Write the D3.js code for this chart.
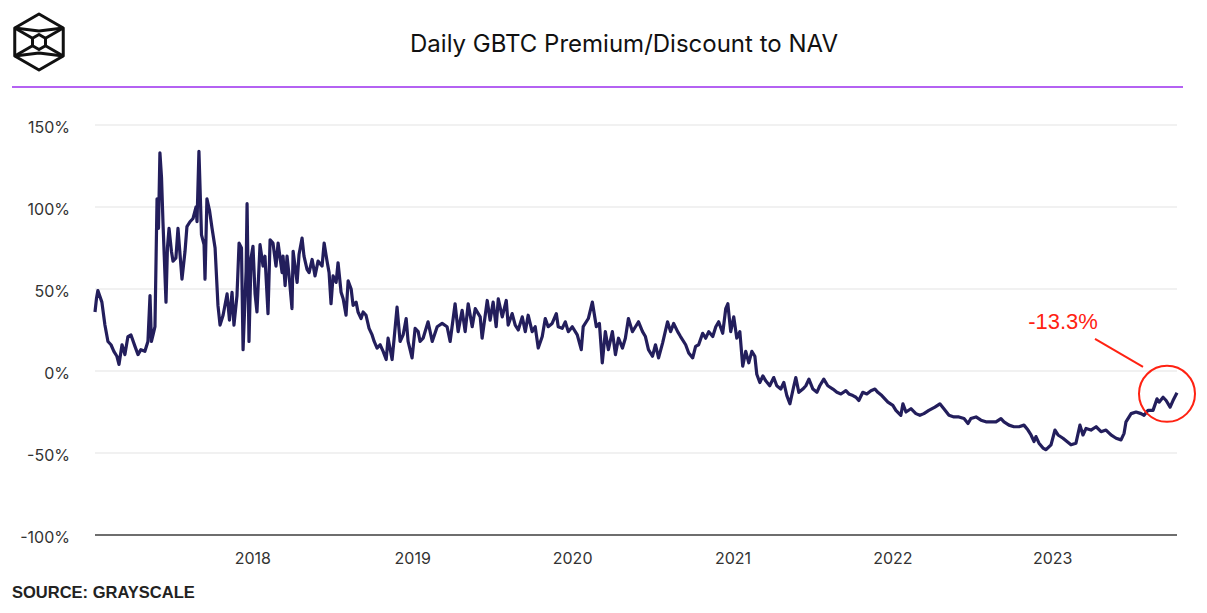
<!DOCTYPE html>
<html>
<head>
<meta charset="utf-8">
<script src="https://cdn.jsdelivr.net/npm/d3@7"></script>
<style>
  body { margin: 0; background: #fff; }
  svg { display: block; font-family: Inter, "Noto Sans", sans-serif; }
</style>
</head>
<body>
<svg id="chart" width="1207" height="613"></svg>
<script>
// dates as decimal years
const dateYears = [
  2017.013, 2017.022, 2017.031, 2017.056, 2017.075, 2017.094, 2017.113, 2017.131, 2017.150, 2017.163,
  2017.182, 2017.200, 2017.219, 2017.238, 2017.263, 2017.282, 2017.300, 2017.325, 2017.344, 2017.357,
  2017.366, 2017.376, 2017.388, 2017.401, 2017.410, 2017.419, 2017.429, 2017.438, 2017.457, 2017.466,
  2017.476, 2017.491, 2017.501, 2017.519, 2017.532, 2017.557, 2017.576, 2017.588, 2017.607, 2017.626,
  2017.645, 2017.651, 2017.663, 2017.679, 2017.695, 2017.701, 2017.713, 2017.729, 2017.745, 2017.764,
  2017.782, 2017.795, 2017.814, 2017.839, 2017.854, 2017.870, 2017.882, 2017.901, 2017.914, 2017.929,
  2017.939, 2017.958, 2017.964, 2017.976, 2017.989, 2018.001, 2018.014, 2018.026, 2018.045, 2018.064,
  2018.076, 2018.095, 2018.108, 2018.126, 2018.145, 2018.158, 2018.183, 2018.189, 2018.202, 2018.214,
  2018.227, 2018.245, 2018.252, 2018.277, 2018.289, 2018.308, 2018.320, 2018.339, 2018.352, 2018.371,
  2018.389, 2018.408, 2018.433, 2018.446, 2018.464, 2018.477, 2018.489, 2018.502, 2018.521, 2018.533,
  2018.552, 2018.565, 2018.583, 2018.596, 2018.615, 2018.627, 2018.646, 2018.658, 2018.677, 2018.690,
  2018.708, 2018.727, 2018.746, 2018.759, 2018.777, 2018.796, 2018.815, 2018.834, 2018.846, 2018.871,
  2018.884, 2018.902, 2018.921, 2018.940, 2018.959, 2018.971, 2018.996, 2019.015, 2019.034, 2019.046,
  2019.065, 2019.096, 2019.122, 2019.153, 2019.184, 2019.215, 2019.234, 2019.265, 2019.284, 2019.309,
  2019.328, 2019.347, 2019.372, 2019.391, 2019.422, 2019.434, 2019.466, 2019.484, 2019.503, 2019.522,
  2019.535, 2019.560, 2019.585, 2019.597, 2019.622, 2019.641, 2019.660, 2019.685, 2019.704, 2019.722,
  2019.747, 2019.766, 2019.785, 2019.810, 2019.829, 2019.847, 2019.872, 2019.898, 2019.910, 2019.935,
  2019.954, 2019.973, 2019.998, 2020.029, 2020.054, 2020.066, 2020.098, 2020.123, 2020.148, 2020.167,
  2020.185, 2020.204, 2020.223, 2020.248, 2020.267, 2020.286, 2020.311, 2020.329, 2020.348, 2020.373,
  2020.392, 2020.411, 2020.436, 2020.454, 2020.473, 2020.498, 2020.517, 2020.536, 2020.561, 2020.592,
  2020.611, 2020.630, 2020.655, 2020.673, 2020.705, 2020.724, 2020.749, 2020.767, 2020.786, 2020.811,
  2020.830, 2020.849, 2020.874, 2020.893, 2020.911, 2020.936, 2020.955, 2020.968, 2020.986, 2021.005,
  2021.024, 2021.043, 2021.061, 2021.080, 2021.099, 2021.118, 2021.137, 2021.149, 2021.168, 2021.187,
  2021.205, 2021.230, 2021.255, 2021.274, 2021.299, 2021.318, 2021.337, 2021.356, 2021.381, 2021.393,
  2021.412, 2021.437, 2021.456, 2021.475, 2021.500, 2021.525, 2021.543, 2021.568, 2021.593, 2021.625,
  2021.650, 2021.675, 2021.706, 2021.725, 2021.750, 2021.769, 2021.787, 2021.812, 2021.837, 2021.863,
  2021.888, 2021.906, 2021.931, 2021.950, 2021.969, 2022.000, 2022.019, 2022.050, 2022.063, 2022.082,
  2022.113, 2022.144, 2022.169, 2022.194, 2022.225, 2022.263, 2022.294, 2022.319, 2022.351, 2022.382,
  2022.413, 2022.445, 2022.470, 2022.488, 2022.520, 2022.551, 2022.582, 2022.613, 2022.645, 2022.676,
  2022.695, 2022.726, 2022.757, 2022.789, 2022.820, 2022.845, 2022.864, 2022.883, 2022.895, 2022.914,
  2022.939, 2022.958, 2022.989, 2023.014, 2023.033, 2023.064, 2023.089, 2023.114, 2023.145, 2023.170,
  2023.189, 2023.208, 2023.239, 2023.271, 2023.302, 2023.333, 2023.364, 2023.396, 2023.427, 2023.446,
  2023.458, 2023.490, 2023.521, 2023.552, 2023.571, 2023.596, 2023.627, 2023.652, 2023.665, 2023.690,
  2023.709, 2023.734, 2023.752, 2023.777
];

// premium (+) / discount (-) to NAV, percent
const premium = [
  36, 44, 49, 42, 28, 18, 16, 12, 9, 4,
  16, 10, 21, 22, 15, 10, 13, 12, 18, 46,
  18, 22, 27, 105, 87, 133, 118, 91, 42, 75,
  87, 73, 67, 69, 87, 56, 73, 88, 91, 93,
  100, 91, 134, 83, 77, 56, 105, 98, 87, 75,
  40, 28, 34, 47, 31, 48, 28, 46, 78, 75,
  13, 61, 102, 18, 69, 76, 47, 36, 77, 64,
  70, 35, 80, 78, 64, 78, 60, 70, 52, 70,
  58, 38, 73, 54, 71, 81, 70, 62, 60, 68,
  58, 67, 64, 78, 67, 60, 41, 58, 54, 66,
  48, 44, 34, 55, 50, 40, 42, 36, 32, 36,
  34, 26, 22, 18, 14, 16, 12, 7, 20, 7,
  20, 39, 18, 22, 32, 18, 8, 26, 24, 18,
  20, 30, 18, 27, 29, 27, 18, 41, 24, 37,
  24, 41, 27, 38, 33, 20, 43, 31, 42, 27,
  44, 33, 43, 28, 35, 28, 25, 33, 24, 34,
  24, 27, 14, 21, 32, 27, 29, 35, 27, 26,
  30, 24, 27, 22, 13, 27, 32, 42, 27, 29,
  5, 24, 13, 24, 10, 20, 14, 20, 32, 24,
  27, 30, 24, 21, 13, 9, 16, 8, 17, 30,
  24, 29, 24, 21, 16, 11, 8, 15, 16, 23,
  20, 24, 21, 27, 30, 23, 38, 41, 24, 33,
  20, 24, 3, 12, 5, 12, 9, -2, -7, -3,
  -6, -9, -4, -9, -11, -7, -15, -20, -9, -4,
  -13, -11, -9, -5, -11, -13, -9, -5, -9, -11,
  -13, -14, -12, -14, -15, -16, -18, -13, -14, -12,
  -11, -13, -15, -17, -19, -21, -24, -27, -20, -25,
  -23, -26, -27, -26, -24, -22, -20, -23, -27, -28,
  -28, -29, -32, -29, -28, -30, -31, -31, -31, -29,
  -31, -33, -34, -34, -33, -36, -39, -43, -40, -44,
  -47, -48, -45, -36, -39, -41, -43, -45, -44, -33,
  -39, -35, -36, -34, -37, -36, -39, -41, -42, -38,
  -31, -26, -25, -26, -27, -24, -24, -17, -19, -16,
  -18, -22, -18, -13.3
];

const yTicks = [-100, -50, 0, 50, 100, 150];
const xTickYears = [2018, 2019, 2020, 2021, 2022, 2023];

function yearToDate(y) {
  const yr = Math.floor(y);
  const start = new Date(yr, 0, 1), end = new Date(yr + 1, 0, 1);
  return new Date(start.getTime() + (y - yr) * (end - start));
}

const data = dateYears.map((t, i) => ({ date: yearToDate(t), value: premium[i] }));

const svg = d3.select('#chart');
const margin = { left: 95, right: 30, top: 125, bottom: 78 };
const W = 1207, H = 613;

const x = d3.scaleTime()
  .domain(d3.extent(data, d => d.date))
  .range([margin.left, W - margin.right]);

const y = d3.scaleLinear()
  .domain([-100, 150])
  .range([H - margin.bottom, margin.top]);

// logo
const logo = svg.append('g')
  .attr('transform', 'translate(39,42)')
  .attr('fill', 'none')
  .attr('stroke', '#111')
  .attr('stroke-width', 3)
  .attr('stroke-linejoin', 'round');
const hex = (r) => d3.range(6).map(k => {
  const a = Math.PI / 3 * k - Math.PI / 2;
  return [r * Math.cos(a), r * Math.sin(a)];
});
const outer = hex(28), inner = hex(7.5);
logo.append('path').attr('d', d3.line()(outer) + 'Z');
logo.append('path').attr('d', d3.line()(inner) + 'Z');
[1, 2, 4, 5].forEach(k => {
  logo.append('line')
    .attr('x1', outer[k][0]).attr('y1', outer[k][1])
    .attr('x2', inner[k][0]).attr('y2', inner[k][1]);
});
logo.append('path').attr('d', d3.line()([outer[2], [0, 11], outer[4]]));
logo.append('path').attr('d', d3.line()([outer[5], [0, -11], outer[1]]));

// title
svg.append('text')
  .attr('x', 624)
  .attr('y', 52)
  .attr('text-anchor', 'middle')
  .attr('font-size', 24)
  .attr('fill', '#111')
  .text('Daily GBTC Premium/Discount to NAV');

svg.append('line')
  .attr('x1', 12).attr('x2', 1183)
  .attr('y1', 87).attr('y2', 87)
  .attr('stroke', '#b462f2')
  .attr('stroke-width', 2);

// grid
svg.append('g')
  .selectAll('line')
  .data(yTicks.filter(d => d !== -100))
  .join('line')
  .attr('x1', margin.left).attr('x2', W - margin.right)
  .attr('y1', d => y(d)).attr('y2', d => y(d))
  .attr('stroke', '#ececec')
  .attr('stroke-width', 1.5);

svg.append('line')
  .attr('x1', margin.left).attr('x2', W - margin.right)
  .attr('y1', y(-100)).attr('y2', y(-100))
  .attr('stroke', '#6e6e6e')
  .attr('stroke-width', 2);

// y labels
svg.append('g')
  .selectAll('text')
  .data(yTicks)
  .join('text')
  .attr('x', 70)
  .attr('y', d => y(d) + 8)
  .attr('text-anchor', 'end')
  .attr('font-size', 16)
  .attr('fill', '#333')
  .text(d => d + '%');

// x labels
svg.append('g')
  .selectAll('text')
  .data(xTickYears)
  .join('text')
  .attr('x', d => x(new Date(d, 0, 1)))
  .attr('y', 564)
  .attr('text-anchor', 'middle')
  .attr('font-size', 16)
  .attr('fill', '#333')
  .text(d => d);

// series
svg.append('path')
  .datum(data)
  .attr('d', d3.line().x(d => x(d.date)).y(d => y(d.value)))
  .attr('fill', 'none')
  .attr('stroke', '#231e5c')
  .attr('stroke-width', 3.2)
  .attr('stroke-linejoin', 'round');

// annotation on last value
const last = data[data.length - 1];
const cx = x(last.date) - 10, cy = y(last.value) + 1;
svg.append('circle')
  .attr('cx', cx).attr('cy', cy).attr('r', 28)
  .attr('fill', 'none')
  .attr('stroke', '#ff2212')
  .attr('stroke-width', 2);
svg.append('line')
  .attr('x1', cx - 72).attr('y1', cy - 55)
  .attr('x2', cx - 24).attr('y2', cy - 27)
  .attr('stroke', '#ff2212')
  .attr('stroke-width', 2);
svg.append('text')
  .attr('x', cx - 104)
  .attr('y', cy - 65)
  .attr('text-anchor', 'middle')
  .attr('font-family', 'Arial, "Liberation Sans", sans-serif')
  .attr('font-size', 22)
  .attr('fill', '#ff2212')
  .text(last.value.toFixed(1) + '%');

// source
svg.append('text')
  .attr('x', 12)
  .attr('y', 598)
  .attr('font-family', 'Arial, "Liberation Sans", sans-serif')
  .attr('font-weight', 'bold')
  .attr('font-size', 16.5)
  .attr('fill', '#222')
  .text('SOURCE: GRAYSCALE');
</script>
</body>
</html>
